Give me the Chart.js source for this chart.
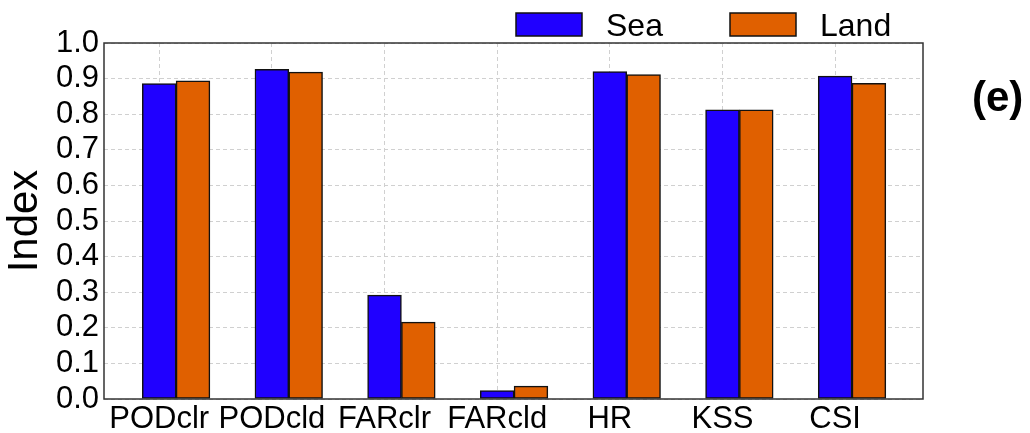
<!DOCTYPE html>
<html>
<head>
<meta charset="utf-8">
<script src="https://cdn.jsdelivr.net/npm/chart.js@4/dist/chart.umd.min.js"></script>
<style>
  html, body { margin: 0; padding: 0; background: #fff; }
</style>
</head>
<body>
<canvas id="grafico" width="1030" height="433"></canvas>
<script>
// dados
const categorias = ['PODclr', 'PODcld', 'FARclr', 'FARcld', 'HR', 'KSS', 'CSI'];
const sea = [0.886, 0.926, 0.292, 0.024, 0.920, 0.812, 0.907];
const land = [0.894, 0.918, 0.216, 0.036, 0.911, 0.812, 0.887];
const yTicks = [0.0, 0.1, 0.2, 0.3, 0.4, 0.5, 0.6, 0.7, 0.8, 0.9, 1.0];
const nomes = ['Sea', 'Land'];
const cores = ['#2000ff', '#e06000'];

const fonte = "'Liberation Sans', Arial, sans-serif";
const larguraBarra = 0.3; // em unidades do eixo x

// moldura do grafico
const moldura = {
    id: 'moldura',
    afterDraw(chart) {
        const a = chart.chartArea;
        const ctx = chart.ctx;
        ctx.save();
        ctx.strokeStyle = '#333';
        ctx.lineWidth = 1.5;
        ctx.strokeRect(a.left, a.top, a.right - a.left, a.bottom - a.top);
        ctx.restore();
    }
};

// legenda manual + rotulo (e)
const legenda = {
    id: 'legenda',
    afterDraw(chart) {
        const ctx = chart.ctx;
        ctx.save();
        const boxX = [516, 730];
        chart.data.datasets.forEach((ds, i) => {
            ctx.fillStyle = ds.backgroundColor;
            ctx.fillRect(boxX[i], 13, 66, 23);
            ctx.strokeStyle = '#111';
            ctx.lineWidth = 1.5;
            ctx.strokeRect(boxX[i], 13, 66, 23);
            ctx.fillStyle = '#000';
            ctx.font = '32px ' + fonte;
            ctx.textBaseline = 'alphabetic';
            ctx.fillText(ds.label, boxX[i] + 90, 36);
        });
        ctx.font = 'bold 42px ' + fonte;
        ctx.fillStyle = '#000';
        ctx.fillText('(e)', 972, 111);
        ctx.restore();
    }
};

var ctx = document.getElementById('grafico').getContext('2d');
var myChart = new Chart(ctx, {
    type: 'bar',
    data: {
        datasets: [
            {
                label: nomes[0],
                data: sea.map((v, i) => ({ x: i, y: v })),
                backgroundColor: cores[0]
            },
            {
                label: nomes[1],
                data: land.map((v, i) => ({ x: i + larguraBarra, y: v })),
                backgroundColor: cores[1]
            }
        ]
    },
    options: {
        responsive: false,
        animation: false,
        devicePixelRatio: 1,
        grouped: false,
        categoryPercentage: 1,
        barPercentage: 1,
        borderColor: '#111',
        borderWidth: 1.5,
        borderSkipped: false,
        layout: { padding: { left: 0, right: 107, top: 43, bottom: 0 } },
        plugins: {
            legend: { display: false },
            tooltip: { enabled: false }
        },
        scales: {
            x: {
                type: 'linear',
                min: -0.49,
                max: 6.78,
                offset: false,
                afterBuildTicks: (s) => { s.ticks = categorias.map((c, i) => ({ value: i })); },
                afterFit: (s) => { s.height = 34; },
                ticks: {
                    callback: (v, i) => categorias[i],
                    autoSkip: false,
                    maxRotation: 0,
                    padding: 2,
                    color: '#000',
                    font: { family: fonte, size: 31 }
                },
                grid: { color: '#d0d0d0', drawTicks: false, offset: false },
                border: { display: false, dash: [4, 3] }
            },
            y: {
                min: 0,
                max: 1,
                afterBuildTicks: (s) => { s.ticks = yTicks.map(v => ({ value: v })); },
                afterFit: (s) => { s.width = 104; },
                ticks: {
                    callback: (v) => v.toFixed(1),
                    autoSkip: false,
                    padding: 5,
                    color: '#000',
                    font: { family: fonte, size: 31 }
                },
                title: {
                    display: true,
                    text: 'Index',
                    color: '#000',
                    padding: { top: 0, bottom: 0 },
                    font: { family: fonte, size: 42 }
                },
                grid: { color: '#d0d0d0', drawTicks: false },
                border: { display: false, dash: [4, 3] }
            }
        }
    },
    plugins: [moldura, legenda]
});
</script>
</body>
</html>
